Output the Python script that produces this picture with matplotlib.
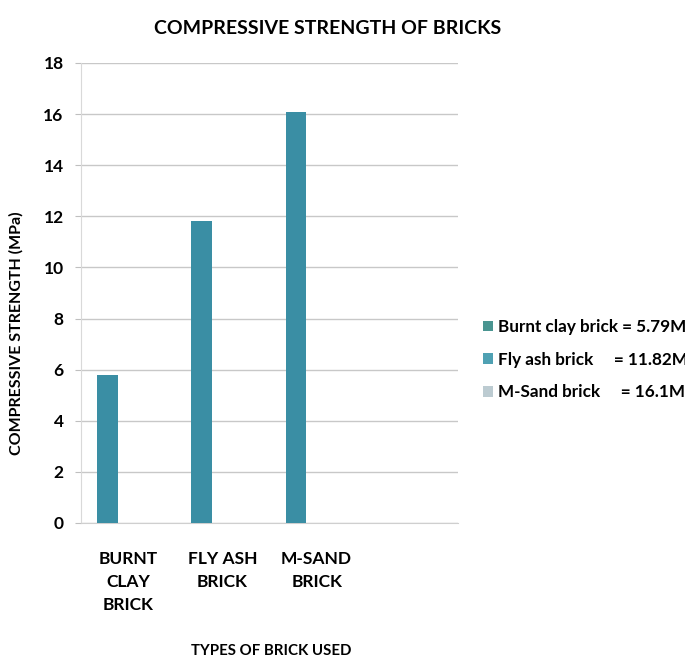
import numpy as np
import matplotlib.pyplot as plt
from matplotlib.patches import Patch

# ======================
# Data
# ======================
categories = ["BURNT\nCLAY\nBRICK", "FLY ASH\nBRICK", "M-SAND\nBRICK", ""]
strength = [5.79, 11.82, 16.1, 0.0]   # MPa, one bar per category
legend_labels = ["Burnt clay brick = 5.79MPa",
                 "Fly ash brick     = 11.82MPa",
                 "M-Sand brick     = 16.1MPa"]
legend_colors = ["#4a9591", "#4fa1b3", "#bccbd1"]
bar_color = "#3a8ea4"

# ======================
# Figure
# ======================
plt.rcParams['font.family'] = ['Lato', 'DejaVu Sans']
plt.rcParams['font.weight'] = 'bold'

fig = plt.figure(figsize=(6.85, 6.6), dpi=100)
ax = fig.add_axes([0.1182, 0.2076, 0.5504, 0.697])

x = np.arange(len(categories))
w = 0.22
# bars sit in the first slot of a 3-wide cluster
ax.bar(x - w, strength, width=w, color=bar_color, zorder=3)

ax.set_xlim(-0.5, 3.5)
ax.set_ylim(0, 18)
ax.set_yticks(np.arange(0, 19, 2))
ax.set_xticks(x)
ax.set_xticklabels(categories, fontsize=12.5, fontweight='bold', linespacing=1.55)
ax.tick_params(axis='x', length=0, pad=20)
ax.tick_params(axis='y', length=4.5, color='#bfbfbf', pad=8, labelsize=12.5)

ax.yaxis.grid(True, color='#c8c8c8', linewidth=1.0, zorder=0)
for s in ['top', 'right']:
    ax.spines[s].set_visible(False)
ax.spines['left'].set_color('#d9d9d9')
ax.spines['bottom'].set_color('#cfcfcf')

fig.text(328 / 685, 1 - 28 / 660, "COMPRESSIVE STRENGTH OF BRICKS",
         ha='center', va='center', fontsize=14, fontweight='bold')
fig.text(16 / 685, 1 - 333 / 660, "COMPRESSIVE STRENGTH (MPa)",
         ha='center', va='center', rotation=90, fontsize=11.5, fontweight='bold')
fig.text(271 / 685, 1 - 651 / 660, "TYPES OF BRICK USED",
         ha='center', va='center', fontsize=10.8, fontweight='bold')

handles = [Patch(facecolor=c, edgecolor='none') for c in legend_colors]
fig.legend(handles, legend_labels, loc='upper left',
           bbox_to_anchor=(483 / 685, 1 - 319 / 660), frameon=False,
           borderpad=0, borderaxespad=0,
           handlelength=0.58, handleheight=0.58, handletextpad=0.3,
           labelspacing=0.98, prop={'weight': 'bold', 'size': 12.3})

plt.savefig("out.png", dpi=100)
